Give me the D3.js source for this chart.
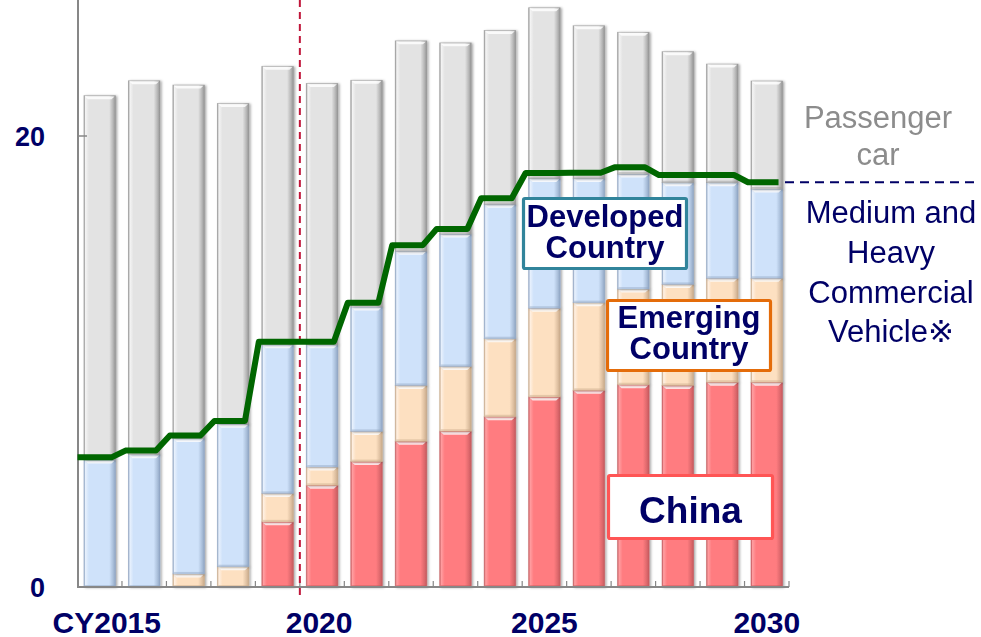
<!DOCTYPE html>
<html>
<head>
<meta charset="utf-8">
<script src="https://cdn.jsdelivr.net/npm/d3@7/dist/d3.min.js"></script>
<style>
  html, body { margin: 0; padding: 0; background: #ffffff; }
  svg { display: block; }
  text { font-family: "Liberation Sans", Arial, "DejaVu Sans", sans-serif; }
</style>
</head>
<body>
<svg id="chart" width="981" height="637"></svg>
<script>
// Vehicle volume by calendar year (stacked): China, emerging, developed commercial + passenger cars
const years = [2015, 2016, 2017, 2018, 2019, 2020, 2021, 2022, 2023, 2024, 2025, 2026, 2027, 2028, 2029, 2030];
const china     = [0, 0, 0, 0, 2.89, 4.51, 5.56, 6.46, 6.91, 7.55, 8.43, 8.72, 8.97, 8.94, 9.08, 9.08];
const emerging  = [0, 0, 0.58, 0.90, 1.26, 0.81, 1.34, 2.48, 2.87, 3.46, 3.93, 3.89, 4.24, 4.48, 4.61, 4.61];
const developed = [5.63, 5.87, 6.01, 6.32, 6.59, 5.42, 5.52, 5.95, 5.87, 5.96, 5.76, 5.51, 5.10, 4.51, 4.24, 3.96];
const passenger = [16.16, 16.58, 15.67, 14.22, 12.35, 11.59, 10.05, 9.33, 8.48, 7.71, 7.57, 6.77, 6.29, 5.81, 5.26, 4.79];
// Medium and heavy commercial vehicle total (step line)
const commercialLine = [5.75, 6.05, 6.72, 7.36, 10.88, 10.88, 12.60, 15.16, 15.88, 17.24, 18.36, 18.37, 18.61, 18.27, 18.27, 17.95];

const xTickLabels = ["CY2015", "2020", "2025", "2030"];
const xTickYears  = [2015, 2020, 2025, 2030];
const yTicks = [0, 20];

const seriesKeys = ["china", "emerging", "developed", "passenger"];
const palette = {
  china:     { base: "#ff7c80", light: "#ff9ea1", dark: "#c45a5e" },
  emerging:  { base: "#fde0c1", light: "#fff0e2", dark: "#c7a888" },
  developed: { base: "#cfe2fa", light: "#e8f1fd", dark: "#8ea4c2" },
  passenger: { base: "#e3e3e3", light: "#f4f4f4", dark: "#939393" }
};

const rows = years.map((yr, i) => ({
  year: yr, china: china[i], emerging: emerging[i], developed: developed[i], passenger: passenger[i]
}));

const svg = d3.select("#chart");
const navy = "#000066";
const axisGray = "#878787";

const x = d3.scaleBand().domain(years).range([77.5, 789]).paddingInner(0.29).paddingOuter(0.145);
const y = d3.scaleLinear().domain([0, 20]).range([587, 136]);

// gradients giving the bars a bevelled look
const defs = svg.append("defs");
seriesKeys.forEach(k => {
  const c = palette[k];
  const g = defs.append("linearGradient").attr("id", "grad-" + k)
    .attr("x1", "0%").attr("x2", "100%").attr("y1", "0%").attr("y2", "0%");
  [[0, c.dark], [0.05, c.light], [0.16, c.base], [0.80, c.base], [0.92, d3.interpolateRgb(c.base, c.dark)(0.55)], [1, c.dark]]
    .forEach(([o, col]) => g.append("stop").attr("offset", o).attr("stop-color", col));
});
const shadow = defs.append("filter").attr("id", "barShadow")
  .attr("x", "-30%").attr("y", "-5%").attr("width", "160%").attr("height", "110%");
shadow.append("feDropShadow").attr("dx", 1.5).attr("dy", 0.5).attr("stdDeviation", 1.3)
  .attr("flood-color", "#000").attr("flood-opacity", 0.35);

// stacked bars
const stacked = d3.stack().keys(seriesKeys)(rows);
const barLayer = svg.append("g");
const bw = x.bandwidth();

stacked.forEach(series => {
  const key = series.key;
  const grp = barLayer.append("g").attr("filter", "url(#barShadow)");
  series.forEach(d => {
    const h = y(d[0]) - y(d[1]);
    if (h <= 0.01) return;
    const x0 = x(d.data.year), y0 = y(d[1]);
    const seg = grp.append("g");
    seg.append("rect").attr("x", x0).attr("y", y0).attr("width", bw).attr("height", h)
      .attr("fill", "url(#grad-" + key + ")")
      .attr("stroke", palette[key].dark).attr("stroke-opacity", 0.6).attr("stroke-width", 0.8);
    if (h > 5) {
      seg.append("path")
        .attr("d", `M${x0 + 1},${y0 + 0.8} L${x0 + bw - 1},${y0 + 0.8} L${x0 + bw - 4},${y0 + 3.5} L${x0 + 4},${y0 + 3.5} Z`)
        .attr("fill", "#ffffff").attr("opacity", 0.8);
      seg.append("rect").attr("x", x0 + 1).attr("y", y0 + h - 2).attr("width", bw - 2).attr("height", 1.6)
        .attr("fill", palette[key].dark).attr("opacity", 0.45);
    }
  });
});

// axes
const axisLayer = svg.append("g");
axisLayer.append("line").attr("x1", 78).attr("x2", 78).attr("y1", 0).attr("y2", y(0))
  .attr("stroke", axisGray).attr("stroke-width", 2);
axisLayer.append("line").attr("x1", 77).attr("x2", x.range()[1]).attr("y1", y(0)).attr("y2", y(0))
  .attr("stroke", axisGray).attr("stroke-width", 2);
// inner tick at 20
axisLayer.append("line").attr("x1", 78).attr("x2", 87).attr("y1", y(20)).attr("y2", y(20))
  .attr("stroke", axisGray).attr("stroke-width", 1.5);
// category boundary ticks
years.forEach(yr => {
  const bx = x(yr) + bw + x.step() * x.paddingInner() / 2;
  axisLayer.append("line").attr("x1", bx).attr("x2", bx).attr("y1", y(0)).attr("y2", y(0) - 6)
    .attr("stroke", axisGray).attr("stroke-width", 1.2);
});

const yAxis = d3.axisLeft(y).tickValues(yTicks).tickSize(0).tickPadding(0).tickFormat(d3.format("d"));
const yAxisG = svg.append("g").attr("transform", "translate(45,0)").call(yAxis);
yAxisG.select(".domain").remove();
yAxisG.selectAll("text").attr("fill", navy).attr("font-size", 27).attr("font-weight", "bold")
  .attr("font-family", "'Liberation Sans', Arial, sans-serif").attr("dy", "0.35em");

const xAxis = d3.axisBottom(x).tickValues(xTickYears).tickSize(0).tickPadding(0)
  .tickFormat(d => xTickLabels[xTickYears.indexOf(d)]);
const xAxisG = svg.append("g").attr("transform", "translate(0,611)").call(xAxis);
xAxisG.select(".domain").remove();
xAxisG.selectAll("text").attr("fill", navy).attr("font-size", 30).attr("font-weight", "bold")
  .attr("font-family", "'Liberation Sans', Arial, sans-serif").attr("dy", "0.72em")
  .attr("dx", d => d === 2015 ? 7 : (d === 2020 ? -3 : 0));

// forecast divider between 2019 and 2020
const divX = x(2020) - x.step() * x.paddingInner() / 2;
svg.append("line").attr("x1", divX).attr("x2", divX).attr("y1", 0).attr("y2", 597)
  .attr("stroke", "#c0163a").attr("stroke-width", 2).attr("stroke-dasharray", "7,5");

// commercial vehicle step line
const linePts = [];
years.forEach((yr, i) => {
  const left = i === 0 ? 77.5 : x(yr) - 3;
  linePts.push([left, y(commercialLine[i])]);
  linePts.push([x(yr) + bw - 4, y(commercialLine[i])]);
});
svg.append("path").attr("d", d3.line()(linePts))
  .attr("fill", "none").attr("stroke", "#006600").attr("stroke-width", 6)
  .attr("stroke-linejoin", "round");

// boundary between commercial vehicles and passenger cars
svg.append("line").attr("x1", 785).attr("x2", 975)
  .attr("y1", y(commercialLine[commercialLine.length - 1])).attr("y2", y(commercialLine[commercialLine.length - 1]))
  .attr("stroke", navy).attr("stroke-width", 2).attr("stroke-dasharray", "9,6");

// region labels
function box(x0, y0, w, h, stroke, lines, size, baselines) {
  const cx = x0 + w / 2;
  svg.append("rect").attr("x", x0).attr("y", y0).attr("width", w).attr("height", h)
    .attr("rx", 1.5).attr("fill", "#ffffff").attr("stroke", stroke).attr("stroke-width", 3.2);
  lines.forEach((t, i) => {
    svg.append("text").attr("x", cx).attr("y", baselines[i]).attr("text-anchor", "middle")
      .attr("fill", navy).attr("font-size", size).attr("font-weight", "bold").text(t);
  });
}
box(523.5, 198.5, 163, 70, "#31849b", ["Developed", "Country"], 31, [227, 258]);
box(607.5, 300.5, 163, 70, "#e46c0a", ["Emerging", "Country"], 31, [328, 359]);
box(608.5, 475.5, 164, 63, "#ff5555", ["China"], 37, [523]);

[["Passenger", 128], ["car", 165]].forEach(([t, by]) => {
  svg.append("text").attr("x", 878).attr("y", by).attr("text-anchor", "middle")
    .attr("fill", "#8c8c8c").attr("font-size", 31).text(t);
});
[["Medium and", 223], ["Heavy", 263], ["Commercial", 303], ["Vehicle※", 342]].forEach(([t, by]) => {
  svg.append("text").attr("x", 891).attr("y", by).attr("text-anchor", "middle")
    .attr("fill", navy).attr("font-size", 31).text(t);
});
</script>
</body>
</html>
